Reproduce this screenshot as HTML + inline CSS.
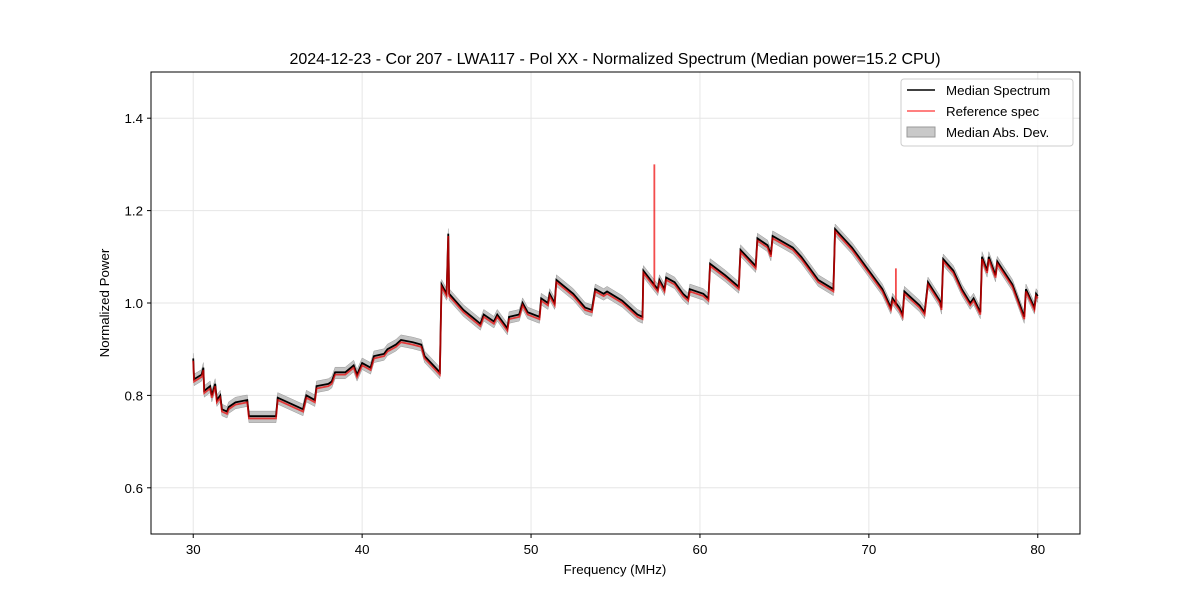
<!DOCTYPE html>
<html><head><meta charset="utf-8"><style>
body{margin:0;background:#fff}
svg text{font-family:"Liberation Sans","DejaVu Sans",sans-serif;fill:#000}
</style></head><body>
<svg id="chart" width="1200" height="600" xmlns="http://www.w3.org/2000/svg">
<rect width="1200" height="600" fill="#fff"/>
<text x="615" y="64" font-size="16" text-anchor="middle">2024-12-23 - Cor 207 - LWA117 - Pol XX - Normalized Spectrum (Median power=15.2 CPU)</text>
<g id="grid"></g>
<g id="series"></g>
<rect x="151" y="72" width="929" height="462" fill="none" stroke="#000" stroke-width="1"/>
<g id="axes"></g>
<text x="615" y="574" font-size="13.3" text-anchor="middle">Frequency (MHz)</text>
<text transform="translate(109,303) rotate(-90)" font-size="13.3" text-anchor="middle">Normalized Power</text>
<g>
<rect x="901" y="79" width="172" height="67" rx="3" fill="#fff" fill-opacity="0.8" stroke="#ccc"/>
<line x1="907" y1="90" x2="935" y2="90" stroke="#000" stroke-width="1.5"/>
<text x="946" y="95" font-size="13.3">Median Spectrum</text>
<line x1="907" y1="111" x2="935" y2="111" stroke="#f44" stroke-opacity="0.9" stroke-width="1.5"/>
<text x="946" y="116" font-size="13.3">Reference spec</text>
<rect x="907" y="127" width="28" height="10" fill="#bbb" fill-opacity="0.8" stroke="#999"/>
<text x="946" y="137" font-size="13.3">Median Abs. Dev.</text>
</g>
</svg>
<script>
const freqs=[30.0,30.05,30.5,30.6,30.65,31.0,31.1,31.3,31.4,31.6,31.7,32.0,32.1,32.5,33.2,33.3,34.9,35.0,36.2,36.5,36.7,37.2,37.3,38.0,38.2,38.4,39.0,39.5,39.7,40.0,40.5,40.7,41.3,41.5,42.0,42.3,43.0,43.5,43.7,44.6,44.7,45.0,45.1,45.15,46.0,46.5,47.0,47.2,47.8,48.0,48.6,48.7,49.3,49.5,49.8,50.5,50.6,51.0,51.1,51.4,51.5,52.5,53.2,53.6,53.8,54.3,54.5,55.4,56.3,56.6,56.65,57.5,57.6,57.9,58.0,58.5,59.0,59.3,59.4,60.2,60.5,60.6,61.5,62.3,62.4,63.3,63.4,64.0,64.2,64.3,65.5,66.0,67.0,67.9,68.0,69.0,70.0,70.8,71.3,71.4,71.8,72.0,72.1,73.0,73.3,73.5,74.2,74.3,74.4,75.0,75.5,76.0,76.2,76.6,76.7,77.0,77.1,77.5,77.6,78.5,79.2,79.3,79.8,79.9,80.0];
const medianVals=[0.88,0.835,0.845,0.86,0.81,0.82,0.80,0.825,0.79,0.80,0.77,0.765,0.775,0.785,0.79,0.755,0.755,0.795,0.775,0.77,0.80,0.79,0.82,0.825,0.83,0.85,0.85,0.865,0.845,0.87,0.86,0.885,0.89,0.9,0.91,0.92,0.915,0.91,0.885,0.85,1.04,1.02,1.15,1.02,0.985,0.97,0.955,0.975,0.96,0.975,0.945,0.97,0.975,1.0,0.98,0.97,1.01,1.0,1.02,1.0,1.05,1.02,0.99,0.985,1.03,1.02,1.025,1.005,0.975,0.97,1.07,1.03,1.05,1.03,1.055,1.045,1.02,1.01,1.03,1.02,1.01,1.085,1.06,1.035,1.115,1.08,1.14,1.125,1.105,1.145,1.12,1.10,1.05,1.03,1.16,1.12,1.07,1.03,0.99,1.01,0.99,0.975,1.025,0.995,0.98,1.045,1.005,0.99,1.095,1.07,1.03,1.0,1.01,0.98,1.10,1.07,1.10,1.06,1.09,1.04,0.97,1.03,0.99,1.02,1.015];
const refOffset=-0.005;
const refSpikeFreqs=[57.3,71.6];
const refSpikeVals=[1.30,1.075];
const madWidth=0.011;
const xTicks=[30,40,50,60,70,80];
const yTicks=[0.6,0.8,1.0,1.2,1.4];
const X=f=>151+(f-27.5)/55*929;
const Y=v=>534-(v-0.5)/1.0*462;
const NS="http://www.w3.org/2000/svg";
function mk(t,a,p){const e=document.createElementNS(NS,t);for(const k in a)e.setAttribute(k,a[k]);p.appendChild(e);return e;}
const grid=document.getElementById('grid'),axes=document.getElementById('axes'),ser=document.getElementById('series');
xTicks.forEach(t=>{
 const g=mk('line',{x1:X(t),x2:X(t),y1:72,y2:534,stroke:'#e6e6e6'},grid);
 
 
 mk('line',{x1:X(t),x2:X(t),y1:534,y2:538,stroke:'#000'},axes);
 const l=mk('text',{x:X(t),y:554,'font-size':13.3,'text-anchor':'middle'},axes);
 l.textContent=t;
 
 
});
yTicks.forEach(t=>{
 const g=mk('line',{x1:151,x2:1080,y1:Y(t),y2:Y(t),stroke:'#e6e6e6'},grid);
 
 
 mk('line',{x1:147,x2:151,y1:Y(t),y2:Y(t),stroke:'#000'},axes);
 const l=mk('text',{x:143,y:Y(t)+5,'font-size':13.3,'text-anchor':'end'},axes);
 l.textContent=t.toFixed(1);
 
 
});
let up=freqs.map((f,i)=>X(f)+','+Y(medianVals[i]+madWidth));
let dn=freqs.map((f,i)=>X(f)+','+Y(medianVals[i]-madWidth-0.003)).reverse();
const band=mk('polygon',{points:up.concat(dn).join(' '),fill:'#aaa','fill-opacity':0.7,stroke:'#999','stroke-width':0.5},ser);


const med=mk('polyline',{points:freqs.map((f,i)=>X(f)+','+Y(medianVals[i])).join(' '),fill:'none',stroke:'#000','stroke-width':1.8},ser);


let rp=freqs.map((f,i)=>[f,medianVals[i]+refOffset]);
refSpikeFreqs.forEach((sf,j)=>{
 let k=rp.findIndex(p=>p[0]>sf);
 const base=rp[k-1][1]+(rp[k][1]-rp[k-1][1])*(sf-rp[k-1][0])/(rp[k][0]-rp[k-1][0]);
 rp.splice(k,0,[sf,base],[sf,refSpikeVals[j]],[sf+0.001,base]);
});
const ref=mk('polyline',{points:rp.map(p=>X(p[0])+','+Y(p[1])).join(' '),fill:'none',stroke:'#e00','stroke-opacity':0.7,'stroke-width':1.8},ser);


</script>
</body></html>
